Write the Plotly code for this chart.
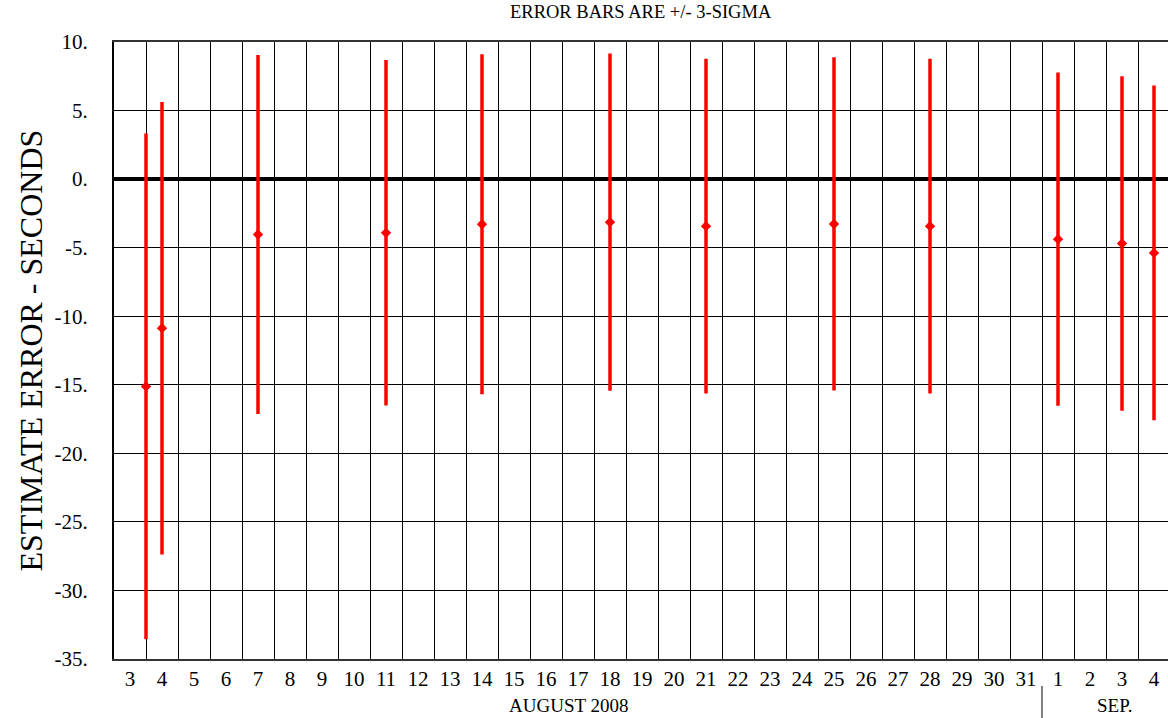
import plotly.graph_objects as go

# x position in days counted from 1 Aug 2008 (1 Sep = day 32); cell for day d spans [d, d+1]
obs_day = [4.0, 4.5, 7.5, 11.5, 14.5, 18.5, 21.5, 25.5, 28.5, 32.5, 34.5, 35.5]
est_error = [-15.12, -10.87, -4.04, -3.92, -3.29, -3.14, -3.43, -3.27, -3.43, -4.38, -4.69, -5.38]
three_sigma = [18.44, 16.5, 13.1, 12.6, 12.4, 12.3, 12.2, 12.15, 12.2, 12.15, 12.2, 12.2]

day_index = list(range(3, 36))
day_labels = [str(d) for d in range(3, 32)] + [str(d) for d in range(1, 5)]
y_ticks = [10, 5, 0, -5, -10, -15, -20, -25, -30, -35]
y_labels = [f"{v}." for v in y_ticks]

FONT = "Liberation Serif"

fig = go.Figure()
fig.add_trace(go.Scatter(
    x=obs_day, y=est_error, mode="markers",
    marker=dict(symbol="diamond", size=8, color="#ff0000"),
    error_y=dict(type="data", array=three_sigma, symmetric=True,
                 color="#ff0000", thickness=3.5, width=0),
    showlegend=False,
))

fig.update_layout(
    width=1168, height=718, autosize=False,
    margin=dict(l=114, r=0, t=42, b=59),
    paper_bgcolor="white", plot_bgcolor="white",
    font=dict(family=FONT, color="black", size=20),
    xaxis=dict(
        range=[3, 3 + 1054 / 32],
        tickmode="array",
        tickvals=[d + 0.5 for d in day_index],
        ticktext=day_labels,
        showgrid=False, zeroline=False,
        ticks="", ticklabelstandoff=0,
        tickfont=dict(family=FONT, size=21, color="black"),
        showline=True, mirror=True, linecolor="#333333", linewidth=2,
        minor=dict(tickmode="linear", tick0=3, dtick=1, showgrid=True,
                   gridcolor="black", gridwidth=1.2, ticks=""),
    ),
    yaxis=dict(
        range=[-35, 10],
        tickmode="array", tickvals=y_ticks, ticktext=y_labels,
        showgrid=True, gridcolor="black", gridwidth=1.2,
        zeroline=True, zerolinecolor="black", zerolinewidth=3.5,
        ticks="", ticklabelstandoff=20,
        tickfont=dict(family=FONT, size=21, color="black"),
        showline=True, linecolor="black", linewidth=2,
    ),
    annotations=[
        dict(text="ERROR BARS ARE +/- 3-SIGMA", xref="paper", yref="paper",
             x=0.5, y=1 + 30 / 617, xanchor="center", yanchor="middle",
             showarrow=False, font=dict(family=FONT, size=18.5, color="black")),
        dict(text="ESTIMATE ERROR - SECONDS", xref="paper", yref="paper",
             x=(30 - 114) / 1054, y=0.5, xanchor="center", yanchor="middle",
             textangle=-90, showarrow=False,
             font=dict(family=FONT, size=32, color="black")),
        dict(text="AUGUST 2008", xref="x", yref="paper",
             x=17.19, y=-(705 - 659) / 617, xanchor="center", yanchor="middle",
             showarrow=False, font=dict(family=FONT, size=19, color="black")),
        dict(text="SEP.", xref="x", yref="paper",
             x=34.25, y=-(705 - 659) / 617, xanchor="center", yanchor="middle",
             showarrow=False, font=dict(family=FONT, size=19, color="black")),
    ],
    shapes=[
        dict(type="line", xref="x", yref="paper", x0=32, x1=32,
             y0=-(686 - 659) / 617, y1=-(718 - 659) / 617,
             line=dict(color="black", width=1)),
    ],
)

fig.write_html("out.html")
